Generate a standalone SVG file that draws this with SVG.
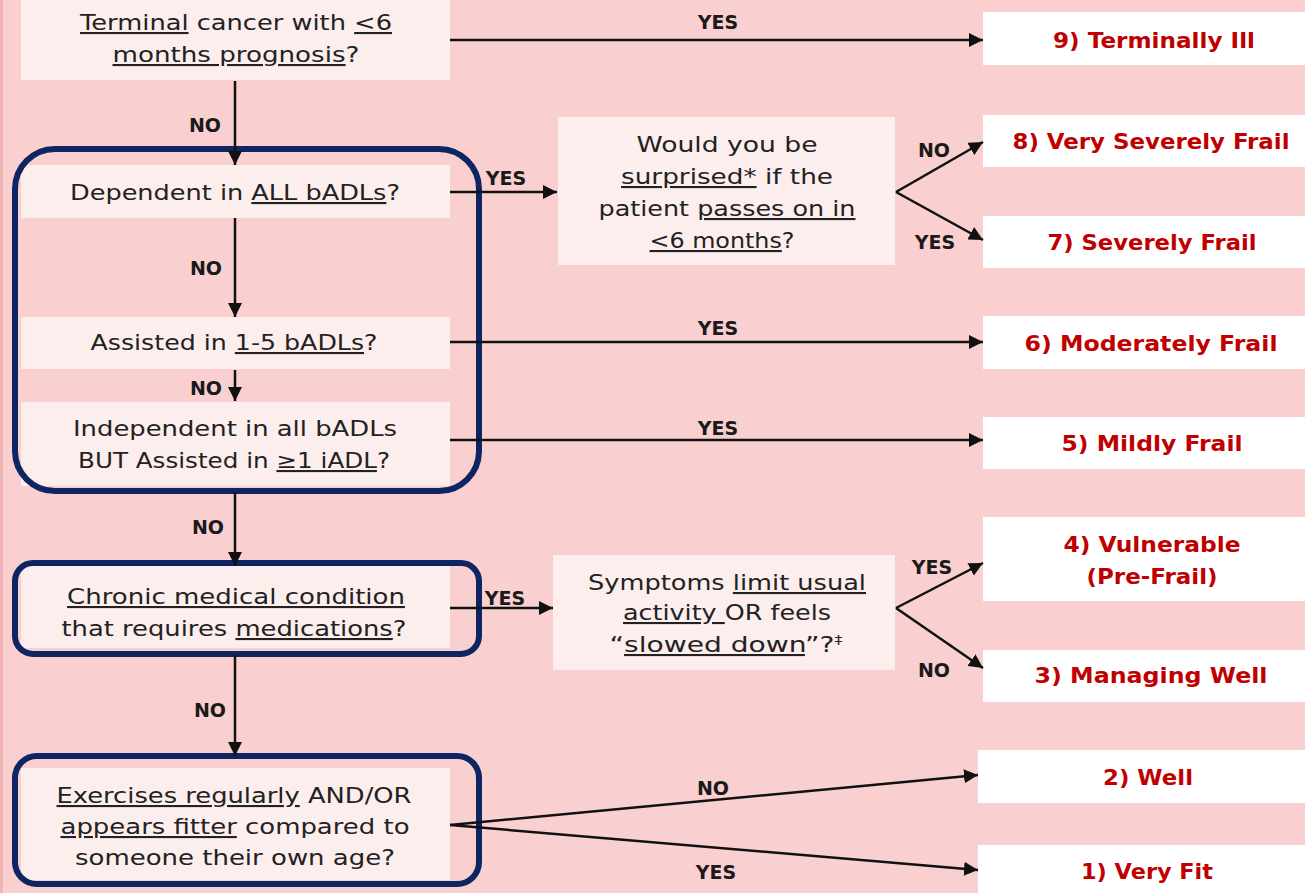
<svg xmlns="http://www.w3.org/2000/svg" width="1305" height="893" viewBox="0 0 1305 893">
<style>
.q{font-family:"DejaVu Sans",Verdana,sans-serif;font-size:21px;fill:#222;text-anchor:middle}
.u{text-decoration:underline}
.o{font-family:"DejaVu Sans",Verdana,sans-serif;font-size:22px;font-weight:bold;fill:#c00000;text-anchor:middle}
.l{font-family:"DejaVu Sans",Verdana,sans-serif;font-size:19px;font-weight:bold;fill:#1a1a1a;text-anchor:middle}
.qb{fill:#fdeeee}
.ob{fill:#ffffff}
.nav{fill:none;stroke:#0d2563;stroke-width:6}
.c{stroke:#111;stroke-width:2.5;fill:none}
</style>
<defs>
<marker id="ah" viewBox="0 0 14 14" refX="14" refY="7" markerWidth="14" markerHeight="14" markerUnits="userSpaceOnUse" orient="auto">
<path d="M0,0 L14,7 L0,14 Z" fill="#111"/>
</marker>
</defs>
<rect width="1305" height="893" fill="#f9cfd0"/>
<rect x="0" y="0" width="3" height="893" fill="#f1b3b5"/>

<g id="n-terminal">
<rect class="qb" x="21" y="0" width="429" height="80"/>
<text class="q" x="236" y="30" textLength="312" lengthAdjust="spacingAndGlyphs"><tspan class="u">Terminal</tspan> cancer with <tspan class="u">&lt;6</tspan></text>
<text class="q" x="236" y="62" textLength="247" lengthAdjust="spacingAndGlyphs"><tspan class="u">months prognosis</tspan>?</text>
</g>

<g id="n-adl-group">
<rect class="qb" x="21" y="165" width="429" height="53"/>
<text class="q" x="235" y="200" textLength="330" lengthAdjust="spacingAndGlyphs">Dependent in <tspan class="u">ALL bADLs</tspan>?</text>
<rect class="qb" x="21" y="317" width="429" height="52"/>
<text class="q" x="234" y="350" textLength="287" lengthAdjust="spacingAndGlyphs">Assisted in <tspan class="u">1-5 bADLs</tspan>?</text>
<rect class="qb" x="21" y="402" width="429" height="84"/>
<text class="q" x="235" y="436" textLength="324" lengthAdjust="spacingAndGlyphs">Independent in all bADLs</text>
<text class="q" x="234" y="468" textLength="312" lengthAdjust="spacingAndGlyphs">BUT Assisted in <tspan class="u">≥1 iADL</tspan>?</text>
<rect class="nav" x="15" y="149" width="464" height="342" rx="40"/>
</g>

<g id="n-surprised">
<rect class="qb" x="558" y="117" width="337" height="148"/>
<text class="q" x="727" y="152" textLength="181" lengthAdjust="spacingAndGlyphs">Would you be</text>
<text class="q" x="727" y="184" textLength="212" lengthAdjust="spacingAndGlyphs"><tspan class="u">surprised*</tspan> if the</text>
<text class="q" x="727" y="216" textLength="257" lengthAdjust="spacingAndGlyphs">patient <tspan class="u">passes on in</tspan></text>
<text class="q" x="722" y="248" textLength="145" lengthAdjust="spacingAndGlyphs"><tspan class="u">&lt;6 months</tspan>?</text>
</g>

<g id="n-chronic">
<rect class="qb" x="21" y="566" width="429" height="82"/>
<text class="q" x="236" y="604" textLength="338" lengthAdjust="spacingAndGlyphs"><tspan class="u">Chronic medical condition</tspan></text>
<text class="q" x="234" y="636" textLength="345" lengthAdjust="spacingAndGlyphs">that requires <tspan class="u">medications</tspan>?</text>
<rect class="nav" x="15" y="563" width="464" height="91" rx="18"/>
</g>

<g id="n-symptoms">
<rect class="qb" x="553" y="555" width="342" height="115"/>
<text class="q" x="727" y="590" textLength="278" lengthAdjust="spacingAndGlyphs">Symptoms <tspan class="u">limit usual</tspan></text>
<text class="q" x="727" y="620" textLength="208" lengthAdjust="spacingAndGlyphs"><tspan class="u">activity </tspan>OR feels</text>
<text class="q" x="726" y="652" textLength="233" lengthAdjust="spacingAndGlyphs">“<tspan class="u">slowed down</tspan>”?<tspan font-size="12" dy="-8">‡</tspan></text>
</g>

<g id="n-exercise">
<rect class="qb" x="21" y="768" width="429" height="112"/>
<text class="q" x="234" y="803" textLength="355" lengthAdjust="spacingAndGlyphs"><tspan class="u">Exercises regularly</tspan> AND/OR</text>
<text class="q" x="235" y="834" textLength="349" lengthAdjust="spacingAndGlyphs"><tspan class="u">appears fitter</tspan> compared to</text>
<text class="q" x="235" y="865" textLength="320" lengthAdjust="spacingAndGlyphs">someone their own age?</text>
<rect class="nav" x="15" y="756" width="464" height="128" rx="22"/>
</g>

<g id="o9"><rect class="ob" x="983" y="12" width="322" height="53"/><text class="o" x="1154" y="48" textLength="202" lengthAdjust="spacingAndGlyphs">9) Terminally Ill</text></g>
<g id="o8"><rect class="ob" x="983" y="115" width="322" height="52"/><text class="o" x="1151" y="149" textLength="277" lengthAdjust="spacingAndGlyphs">8) Very Severely Frail</text></g>
<g id="o7"><rect class="ob" x="983" y="216" width="322" height="52"/><text class="o" x="1152" y="250" textLength="209" lengthAdjust="spacingAndGlyphs">7) Severely Frail</text></g>
<g id="o6"><rect class="ob" x="983" y="316" width="322" height="53"/><text class="o" x="1151" y="351" textLength="253" lengthAdjust="spacingAndGlyphs">6) Moderately Frail</text></g>
<g id="o5"><rect class="ob" x="983" y="417" width="322" height="52"/><text class="o" x="1152" y="451" textLength="181" lengthAdjust="spacingAndGlyphs">5) Mildly Frail</text></g>
<g id="o4"><rect class="ob" x="983" y="517" width="322" height="84"/><text class="o" x="1152" y="552" textLength="177" lengthAdjust="spacingAndGlyphs">4) Vulnerable</text><text class="o" x="1152" y="584" textLength="131" lengthAdjust="spacingAndGlyphs">(Pre-Frail)</text></g>
<g id="o3"><rect class="ob" x="983" y="650" width="322" height="52"/><text class="o" x="1151" y="683" textLength="233" lengthAdjust="spacingAndGlyphs">3) Managing Well</text></g>
<g id="o2"><rect class="ob" x="978" y="750" width="327" height="53"/><text class="o" x="1148" y="785" textLength="90" lengthAdjust="spacingAndGlyphs">2) Well</text></g>
<g id="o1"><rect class="ob" x="978" y="845" width="327" height="48"/><text class="o" x="1147" y="879" textLength="132" lengthAdjust="spacingAndGlyphs">1) Very Fit</text></g>

<g id="connectors">
<line class="c" x1="450" y1="40" x2="983" y2="40" marker-end="url(#ah)"/>
<text class="l" x="718" y="29">YES</text>
<line class="c" x1="235" y1="81" x2="235" y2="165" marker-end="url(#ah)"/>
<text class="l" x="205" y="132">NO</text>
<line class="c" x1="450" y1="192" x2="557" y2="192" marker-end="url(#ah)"/>
<text class="l" x="506" y="185">YES</text>
<line class="c" x1="896" y1="192" x2="983" y2="142" marker-end="url(#ah)"/>
<text class="l" x="934" y="157">NO</text>
<line class="c" x1="896" y1="192" x2="983" y2="240" marker-end="url(#ah)"/>
<text class="l" x="935" y="249">YES</text>
<line class="c" x1="235" y1="218" x2="235" y2="317" marker-end="url(#ah)"/>
<text class="l" x="206" y="275">NO</text>
<line class="c" x1="450" y1="342" x2="983" y2="342" marker-end="url(#ah)"/>
<text class="l" x="718" y="335">YES</text>
<line class="c" x1="235" y1="370" x2="235" y2="401" marker-end="url(#ah)"/>
<text class="l" x="206" y="395">NO</text>
<line class="c" x1="450" y1="440" x2="983" y2="440" marker-end="url(#ah)"/>
<text class="l" x="718" y="435">YES</text>
<line class="c" x1="235" y1="492" x2="235" y2="566" marker-end="url(#ah)"/>
<text class="l" x="208" y="534">NO</text>
<line class="c" x1="450" y1="608" x2="553" y2="608" marker-end="url(#ah)"/>
<text class="l" x="505" y="605">YES</text>
<line class="c" x1="896" y1="608" x2="983" y2="563" marker-end="url(#ah)"/>
<text class="l" x="932" y="574">YES</text>
<line class="c" x1="896" y1="608" x2="983" y2="668" marker-end="url(#ah)"/>
<text class="l" x="934" y="677">NO</text>
<line class="c" x1="235" y1="655" x2="235" y2="756" marker-end="url(#ah)"/>
<text class="l" x="210" y="717">NO</text>
<line class="c" x1="450" y1="825" x2="978" y2="775" marker-end="url(#ah)"/>
<text class="l" x="713" y="795">NO</text>
<line class="c" x1="450" y1="825" x2="978" y2="870" marker-end="url(#ah)"/>
<text class="l" x="716" y="879">YES</text>
</g>
</svg>
